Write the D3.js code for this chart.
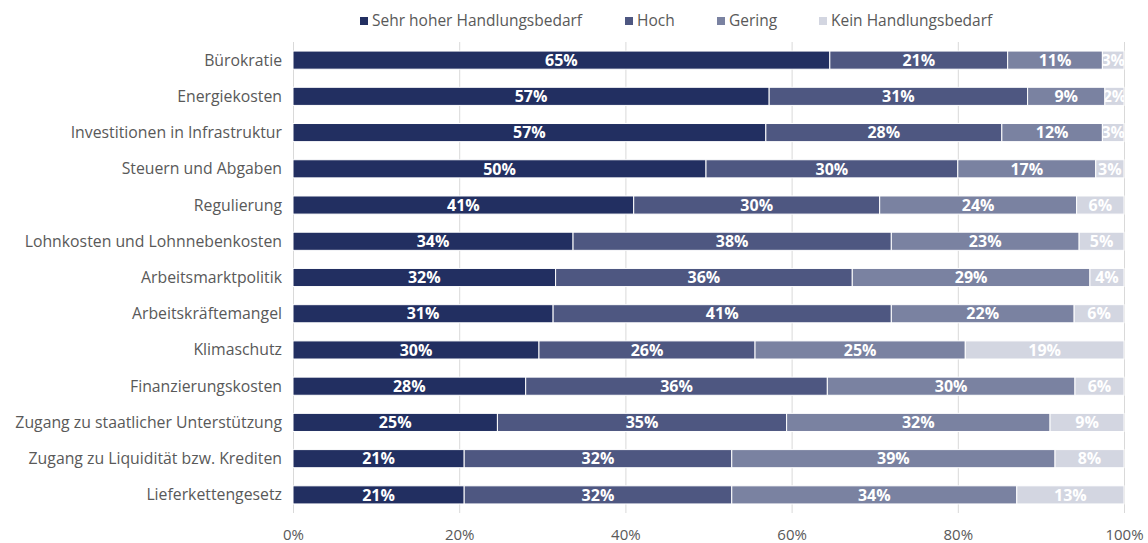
<!DOCTYPE html>
<html>
<head>
<meta charset="utf-8">
<script src="https://cdn.jsdelivr.net/npm/d3@7"></script>
<style>
  body { margin: 0; background: #fff; }
  text { font-family: "Open Sans", sans-serif; }
  .cat-label { fill: #595959; font-size: 15.8px; }
  .legend-label { fill: #595959; font-size: 15.5px; }
  .x-axis text { fill: #595959; font-size: 15px; }
  .bar-label { fill: #fff; font-size: 16px; font-weight: bold; }
</style>
</head>
<body>
<div id="chart"></div>
<script>
// data (share of answers in %)
const categories = ["Bürokratie", "Energiekosten", "Investitionen in Infrastruktur",
  "Steuern und Abgaben", "Regulierung", "Lohnkosten und Lohnnebenkosten",
  "Arbeitsmarktpolitik", "Arbeitskräftemangel", "Klimaschutz", "Finanzierungskosten",
  "Zugang zu staatlicher Unterstützung", "Zugang zu Liquidität bzw. Krediten",
  "Lieferkettengesetz"]

const seriesNames = ["Sehr hoher Handlungsbedarf", "Hoch", "Gering", "Kein Handlungsbedarf"]

const sehrHoch = [64.6, 57.3, 56.9, 49.7, 41.0, 33.7, 31.6, 31.3, 29.6, 28.0, 24.6, 20.6, 20.6]
const hoch     = [21.4, 31.1, 28.4, 30.3, 29.6, 38.3, 35.7, 40.7, 26.0, 36.3, 34.8, 32.2, 32.2]
const gering   = [11.4,  9.3, 12.1, 16.6, 23.7, 22.6, 28.6, 22.0, 25.3, 29.8, 31.7, 38.9, 34.3]
const kein     = [ 2.6,  2.3,  2.6,  3.4,  5.7,  5.4,  4.1,  6.0, 19.1,  5.9,  8.9,  8.3, 12.9]

const xTicks = [0, 20, 40, 60, 80, 100]

const colors = ["#222f61", "#4e5781", "#7a82a1", "#d3d6e1"]

// table for d3.stack
const table = categories.map((c, i) => ({
  category: c,
  [seriesNames[0]]: sehrHoch[i],
  [seriesNames[1]]: hoch[i],
  [seriesNames[2]]: gering[i],
  [seriesNames[3]]: kein[i]
}))

const width = 1148, height = 543
const margin = {top: 42, right: 24, bottom: 30, left: 293}

const svg = d3.select("#chart")
  .append("svg")
    .attr("width", width)
    .attr("height", height)

const x = d3.scaleLinear()
  .domain([0, 100])
  .range([margin.left, width - margin.right])

const y = d3.scaleBand()
  .domain(categories)
  .range([margin.top, height - margin.bottom])
  .paddingInner(0.5)
  .paddingOuter(0.25)

// gridlines + tick labels
svg.append("g")
    .attr("class", "x-axis")
    .attr("transform", `translate(0, ${height - margin.bottom})`)
  .call(d3.axisBottom(x)
    .tickValues(xTicks)
    .tickFormat(d => d + "%")
    .tickSize(-(height - margin.bottom - margin.top))
    .tickPadding(22))
  .call(g => g.select(".domain").remove())
  .call(g => g.selectAll(".tick line").attr("stroke", "#d9d9d9"))
  .call(g => g.selectAll(".tick text").attr("dy", "0.35em"))

// category labels
svg.append("g")
  .selectAll("text")
  .data(categories)
  .join("text")
    .attr("class", "cat-label")
    .attr("x", margin.left - 11)
    .attr("y", d => y(d) + y.bandwidth() / 2)
    .attr("dy", "0.35em")
    .attr("text-anchor", "end")
    .text(d => d)

const stacked = d3.stack().keys(seriesNames)(table)

const defs = svg.append("defs")

const layers = svg.append("g")
  .selectAll("g")
  .data(stacked)
  .join("g")
    .attr("fill", (d, i) => colors[i])

layers.selectAll("rect")
  .data(d => d)
  .join("rect")
    .attr("x", d => x(d[0]))
    .attr("y", d => y(d.data.category))
    .attr("width", d => x(d[1]) - x(d[0]))
    .attr("height", y.bandwidth())
    .attr("stroke", "#fff")
    .attr("stroke-width", 1)

// clip each label to its own segment
stacked.forEach((s, si) => {
  s.forEach((d, ri) => {
    defs.append("clipPath")
        .attr("id", `clip-${si}-${ri}`)
      .append("rect")
        .attr("x", x(d[0]))
        .attr("y", y(d.data.category))
        .attr("width", x(d[1]) - x(d[0]))
        .attr("height", y.bandwidth())
  })
})

const labels = svg.append("g")
stacked.forEach((s, si) => {
  labels.selectAll(null)
    .data(s)
    .join("text")
      .attr("class", "bar-label")
      .attr("clip-path", (d, ri) => `url(#clip-${si}-${ri})`)
      .attr("x", d => (x(d[0]) + x(d[1])) / 2)
      .attr("y", d => y(d.data.category) + y.bandwidth() / 2)
      .attr("dy", "0.36em")
      .attr("text-anchor", "middle")
      .text(d => (d[1] - d[0]).toFixed(0) + "%")
})

// legend
const legendX = [360, 625, 717, 819]
const legend = svg.append("g")
  .selectAll("g")
  .data(seriesNames)
  .join("g")
    .attr("transform", (d, i) => `translate(${legendX[i]}, 21)`)

legend.append("rect")
    .attr("x", 0)
    .attr("y", -4)
    .attr("width", 8)
    .attr("height", 8)
    .attr("fill", (d, i) => colors[i])

legend.append("text")
    .attr("class", "legend-label")
    .attr("x", 12)
    .attr("dy", "0.35em")
    .text(d => d)
</script>
</body>
</html>
